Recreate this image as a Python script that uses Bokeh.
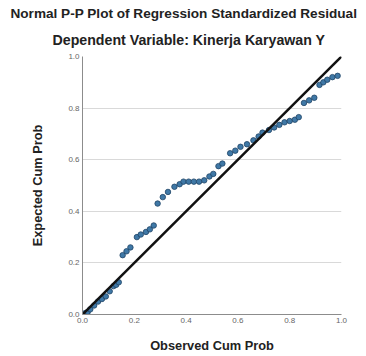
from bokeh.plotting import figure
from bokeh.models import Range1d, Title, FixedTicker, NumeralTickFormatter
from bokeh.embed import file_html
from bokeh.resources import INLINE

title_main = "Normal P-P Plot of Regression Standardized Residual"
title_sub = "Dependent Variable: Kinerja Karyawan Y"
x_label = "Observed Cum Prob"
y_label = "Expected Cum Prob"
ticks = [0.0, 0.2, 0.4, 0.6, 0.8, 1.0]

observed = [0.01, 0.02, 0.03, 0.045, 0.06, 0.075, 0.09, 0.105, 0.12, 0.13, 0.14,
            0.155, 0.17, 0.185, 0.21, 0.225, 0.245, 0.26, 0.275,
            0.29, 0.31, 0.33, 0.355, 0.375, 0.39, 0.41, 0.43, 0.45, 0.47, 0.49, 0.505, 0.525, 0.54,
            0.57, 0.59, 0.61, 0.635, 0.66, 0.68, 0.695, 0.72, 0.74, 0.76, 0.78, 0.80, 0.82, 0.835,
            0.855, 0.875, 0.895, 0.915, 0.93, 0.945, 0.965, 0.985]
expected = [0.005, 0.01, 0.02, 0.035, 0.05, 0.06, 0.07, 0.09, 0.11, 0.115, 0.125,
            0.23, 0.245, 0.26, 0.30, 0.31, 0.32, 0.33, 0.345,
            0.43, 0.455, 0.475, 0.495, 0.505, 0.515, 0.515, 0.515, 0.515, 0.52, 0.535, 0.545, 0.575, 0.585,
            0.625, 0.635, 0.65, 0.66, 0.675, 0.69, 0.705, 0.715, 0.725, 0.735, 0.745, 0.75, 0.755, 0.765,
            0.82, 0.83, 0.84, 0.89, 0.90, 0.91, 0.92, 0.925]
diag = [0.0, 1.0]

p = figure(width=366, height=356, output_backend="svg", toolbar_location=None,
           x_range=Range1d(0, 1), y_range=Range1d(0, 1),
           min_border_left=82, min_border_right=25, min_border_top=56, min_border_bottom=42)
p.outline_line_color = None
p.background_fill_color = "white"
p.border_fill_color = "white"

p.add_layout(Title(text=title_sub, align="left", offset=-30, text_font="Liberation Sans",
                   text_font_size="14.2px", text_font_style="bold", text_color="#222222",
                   standoff=18), "above")
p.add_layout(Title(text=title_main, align="left", offset=-72, text_font="Liberation Sans",
                   text_font_size="13.6px", text_font_style="bold", text_color="#222222",
                   text_line_height=0.8, standoff=0), "above")

for ax in (p.xaxis[0], p.yaxis[0]):
    ax.ticker = FixedTicker(ticks=ticks)
    ax.formatter = NumeralTickFormatter(format="0.0")
    ax.major_tick_in = 0
    ax.major_tick_out = 0
    ax.minor_tick_in = 0
    ax.minor_tick_out = 0
    ax.axis_line_color = "#8c8c8c"
    ax.major_label_text_font = "Liberation Sans"
    ax.major_label_text_font_size = "8px"
    ax.major_label_text_color = "#666666"
    ax.axis_label_text_font = "Liberation Sans"
    ax.axis_label_text_font_size = "12.8px"
    ax.axis_label_text_font_style = "bold"
    ax.axis_label_text_color = "#222222"

p.xaxis.axis_label = x_label
p.yaxis.axis_label = y_label
p.xaxis.major_label_standoff = 3
p.yaxis.major_label_standoff = 3
p.xaxis.axis_label_standoff = 12
p.yaxis.axis_label_standoff = 20

p.xgrid.grid_line_color = None
p.ygrid.grid_line_color = "#d9d9d9"
p.ygrid.ticker = FixedTicker(ticks=ticks)

p.scatter(observed, expected, size=5.5, fill_color="#3f78a6", line_color="#1f4466", line_width=0.8)
p.line(diag, diag, line_color="#111111", line_width=2.5)

open("out.html", "w").write(file_html(p, INLINE))
